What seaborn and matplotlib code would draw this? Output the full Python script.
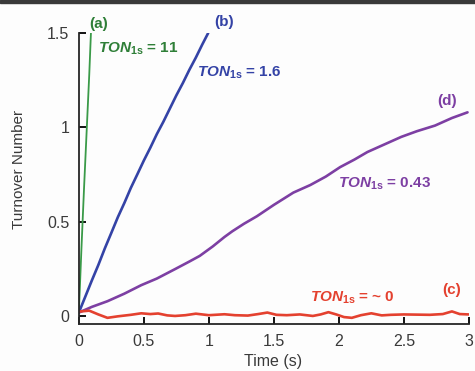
import numpy as np
import pandas as pd
import matplotlib
matplotlib.use("Agg")
import matplotlib.pyplot as plt
import seaborn as sns
from matplotlib.patches import Rectangle
from matplotlib.ticker import FormatStrFormatter

# curve (a), green
t_a = [0, 0.02, 0.04, 0.06, 0.08, 0.093]
ton_a = [0.02, 0.36, 0.68, 0.98, 1.28, 1.5]

# curve (b), blue
t_b = [0, 0.05, 0.1, 0.15, 0.2, 0.25, 0.3, 0.35, 0.4, 0.45, 0.5, 0.55, 0.6, 0.65, 0.7, 0.75, 0.8, 0.85, 0.9, 0.95, 0.995]
ton_b = [0.02, 0.105, 0.19, 0.272, 0.36, 0.442, 0.525, 0.6, 0.68, 0.752, 0.825, 0.893, 0.965, 1.03, 1.1, 1.17, 1.235, 1.305, 1.37, 1.44, 1.5]

# curve (d), purple
t_d = [0, 0.1, 0.22, 0.35, 0.48, 0.6, 0.74, 0.85, 0.93, 1.03, 1.12, 1.18, 1.27, 1.37, 1.5,
       1.65, 1.78, 1.9, 2.01, 2.12, 2.22, 2.35, 2.48, 2.6, 2.74, 2.87, 2.99]
ton_d = [0.02, 0.05, 0.08, 0.12, 0.165, 0.2, 0.25, 0.29, 0.32, 0.37, 0.42, 0.45, 0.49, 0.53, 0.59,
         0.655, 0.695, 0.74, 0.79, 0.83, 0.87, 0.91, 0.95, 0.98, 1.01, 1.05, 1.08]

# curve (c), red
t_c = [0, 0.08, 0.15, 0.22, 0.3, 0.4, 0.48, 0.55, 0.61, 0.68, 0.74, 0.82, 0.9, 1.0, 1.12, 1.2,
       1.3, 1.38, 1.45, 1.52, 1.6, 1.7, 1.8, 1.86, 1.92, 1.98, 2.04, 2.1, 2.17, 2.25, 2.33, 2.4,
       2.5, 2.6, 2.7, 2.8, 2.87, 2.93, 3.0]
ton_c = [0.025, 0.03, 0.01, -0.008, 0.0, 0.008, 0.016, 0.012, 0.015, 0.005, 0.002, 0.006, 0.014,
         0.006, 0.011, 0.006, 0.004, 0.012, 0.02, 0.008, 0.006, 0.01, 0.002, 0.01, 0.022, 0.01,
         -0.004, -0.008, 0.006, 0.016, 0.005, 0.008, 0.01, 0.009, 0.008, 0.012, 0.026, 0.012, 0.01]

x_ticks = [0, 0.5, 1, 1.5, 2, 2.5, 3]
y_ticks = [0, 0.5, 1, 1.5]

green, blue, purple, red = "#3a9a48", "#3443a6", "#7d3fa3", "#e4412f"

sns.set_style("ticks")
plt.rcParams["font.family"] = ["Liberation Sans", "DejaVu Sans"]
plt.rcParams["mathtext.fontset"] = "custom"
plt.rcParams["mathtext.rm"] = "Liberation Sans:bold"
plt.rcParams["mathtext.bf"] = "Liberation Sans:bold"
plt.rcParams["mathtext.it"] = "Liberation Sans:italic:bold"
plt.rcParams["mathtext.bfit"] = "Liberation Sans:italic:bold"

fig = plt.figure(figsize=(4.75, 3.71), dpi=100)
fig.patch.set_facecolor("#fdfdfd")
ax = fig.add_axes([0.166, 0.127, 0.821, 0.784])
ax.set_facecolor("#fdfdfd")

for t, v, c, lw in [(t_a, ton_a, green, 1.3), (t_b, ton_b, blue, 1.9),
                    (t_d, ton_d, purple, 1.9), (t_c, ton_c, red, 1.9)]:
    df = pd.DataFrame({"t": t, "ton": v})
    sns.lineplot(data=df, x="t", y="ton", color=c, lw=lw, ax=ax, estimator=None)

ax.set_xlim(0, 3)
ax.set_ylim(-0.04, 1.5)
ax.set_xticks(x_ticks)
ax.set_yticks(y_ticks)
ax.xaxis.set_major_formatter(FormatStrFormatter("%g"))
ax.yaxis.set_major_formatter(FormatStrFormatter("%g"))
ax.tick_params(direction="in", length=5, width=1.3, labelsize=11.5, colors="black",
               labelcolor="#3a3a3a", pad=7)
sns.despine(ax=ax)
for s in ["left", "bottom"]:
    ax.spines[s].set_linewidth(1.3)
ax.set_xlabel("Time (s)", fontsize=11.5, color="#3a3a3a")
ax.set_ylabel("Turnover Number", fontsize=11, color="#3a3a3a")
ax.xaxis.set_label_coords(0.497, -0.105)
ax.yaxis.set_label_coords(-0.136, 0.53)

lab = dict(fontsize=11, fontweight="bold", clip_on=False)
ax.text(0.154, 1.55, "(a)", color="#2f7f38", ha="center", va="center", **lab)
ax.text(0.146, 1.395, r"$\mathit{TON}_{\mathbf{1s}}$ = 11", color="#2f7f38", ha="left", va="baseline", **lab)
ax.text(1.12, 1.56, "(b)", color=blue, ha="center", va="center", **lab)
ax.text(0.91, 1.27, r"$\mathit{TON}_{\mathbf{1s}}$ = 1.6", color=blue, ha="left", va="baseline", **lab)
ax.text(2.83, 1.14, "(d)", color=purple, ha="center", va="center", **lab)
ax.text(1.99, 0.68, r"$\mathit{TON}_{\mathbf{1s}}$ = 0.43", color=purple, ha="left", va="baseline", **lab)
ax.text(1.78, 0.079, r"$\mathit{TON}_{\mathbf{1s}}$ = ~ 0", color=red, ha="left", va="baseline", **lab)
ax.text(2.87, 0.14, "(c)", color=red, ha="center", va="center", **lab)

fig.add_artist(Rectangle((0, 1 - 3 / 371), 1, 3 / 371, transform=fig.transFigure,
                         color="#3a3a3a", zorder=10))

fig.savefig("out.png", dpi=100, facecolor=fig.get_facecolor())
